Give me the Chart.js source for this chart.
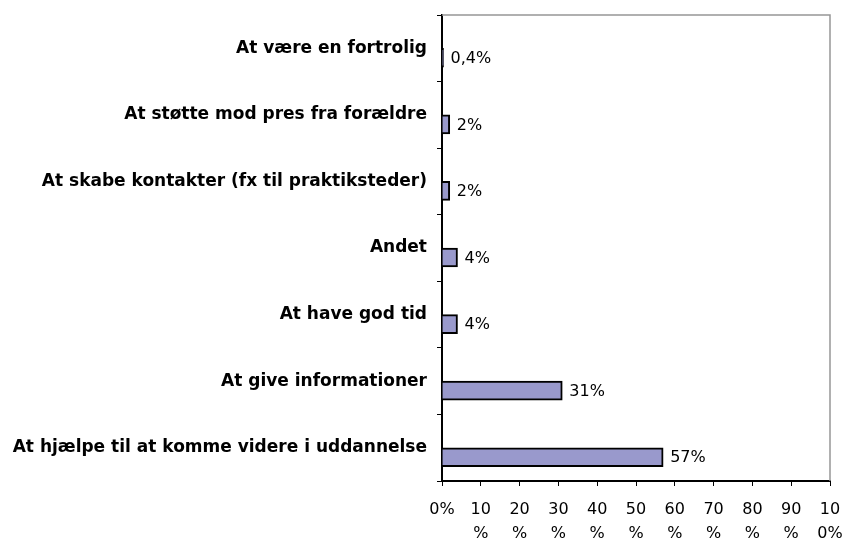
<!DOCTYPE html>
<html>
<head>
<meta charset="utf-8">
<script src="https://cdn.jsdelivr.net/npm/chart.js@4.4.1/dist/chart.umd.min.js"></script>
<style>
    html, body { margin: 0; padding: 0; background: #fff; }
    #wrap { width: 847px; height: 539px; position: relative; }
</style>
</head>
<body>
<div id="wrap"><canvas id="chart"></canvas></div>
<script>
const categories = [
    "At være en fortrolig",
    "At støtte mod pres fra forældre",
    "At skabe kontakter (fx til praktiksteder)",
    "Andet",
    "At have god tid",
    "At give informationer",
    "At hjælpe til at komme videre i uddannelse"
];
const values = [0.4, 2, 2, 4, 4, 31, 57];
const xTickLabels = [["0%"], ["10", "%"], ["20", "%"], ["30", "%"], ["40", "%"], ["50", "%"],
    ["60", "%"], ["70", "%"], ["80", "%"], ["90", "%"], ["10", "0%"]];

const FONT = "'DejaVu Sans', Verdana, sans-serif";

// value text next to each bar + grey frame on top and right
const extras = {
    id: "extras",
    afterDatasetsDraw(chart) {
        const ctx = chart.ctx;
        const area = chart.chartArea;
        ctx.save();
        ctx.strokeStyle = "#969696";
        ctx.lineWidth = 1.5;
        ctx.beginPath();
        ctx.moveTo(area.left, area.top);
        ctx.lineTo(area.right, area.top);
        ctx.lineTo(area.right, area.bottom);
        ctx.stroke();

        ctx.fillStyle = "#000";
        ctx.font = "16px " + FONT;
        ctx.textBaseline = "middle";
        ctx.textAlign = "left";
        chart.getDatasetMeta(1).data.forEach((bar, i) => {
            let txt = String(values[i]).replace(".", ",") + "%";
            ctx.fillText(txt, bar.x + 7, bar.y + 1);
        });
        ctx.restore();
    }
};

new Chart(document.getElementById("chart"), {
    type: "bar",
    data: {
        labels: categories,
        datasets: [
            { data: categories.map(() => null), barThickness: 19 }, // empty slot, pushes bars down like the original
            {
                data: values,
                backgroundColor: "#9999cc",
                borderColor: "#000",
                borderWidth: 2,
                barThickness: 19
            }
        ]
    },
    options: {
        indexAxis: "y",
        responsive: true,
        maintainAspectRatio: false,
        animation: false,
        layout: { padding: { top: 15, right: 17, left: 0, bottom: 0 } },
        plugins: {
            legend: { display: false },
            tooltip: { enabled: false }
        },
        scales: {
            x: {
                min: 0,
                max: 100,
                ticks: {
                    stepSize: 10,
                    maxRotation: 0,
                    autoSkip: false,
                    color: "#000",
                    padding: 11,
                    font: { family: FONT, size: 16, lineHeight: 1.55 },
                    callback: (v, i) => xTickLabels[i]
                },
                grid: { drawOnChartArea: false, color: "#000", tickLength: 5 },
                border: { color: "#000", width: 2 },
                afterFit: (s) => { s.height = 58; s.paddingLeft = 0; s.paddingRight = 0; }
            },
            y: {
                ticks: {
                    color: "#000",
                    padding: 10,
                    autoSkip: false,
                    font: { family: FONT, size: 17, weight: "bold" }
                },
                grid: { drawOnChartArea: false, color: "#000", tickLength: 5, offset: true },
                border: { color: "#000", width: 2 },
                afterFit: (s) => { s.width = 442; s.paddingTop = 0; s.paddingBottom = 0; }
            }
        }
    },
    plugins: [extras]
});
</script>
</body>
</html>
